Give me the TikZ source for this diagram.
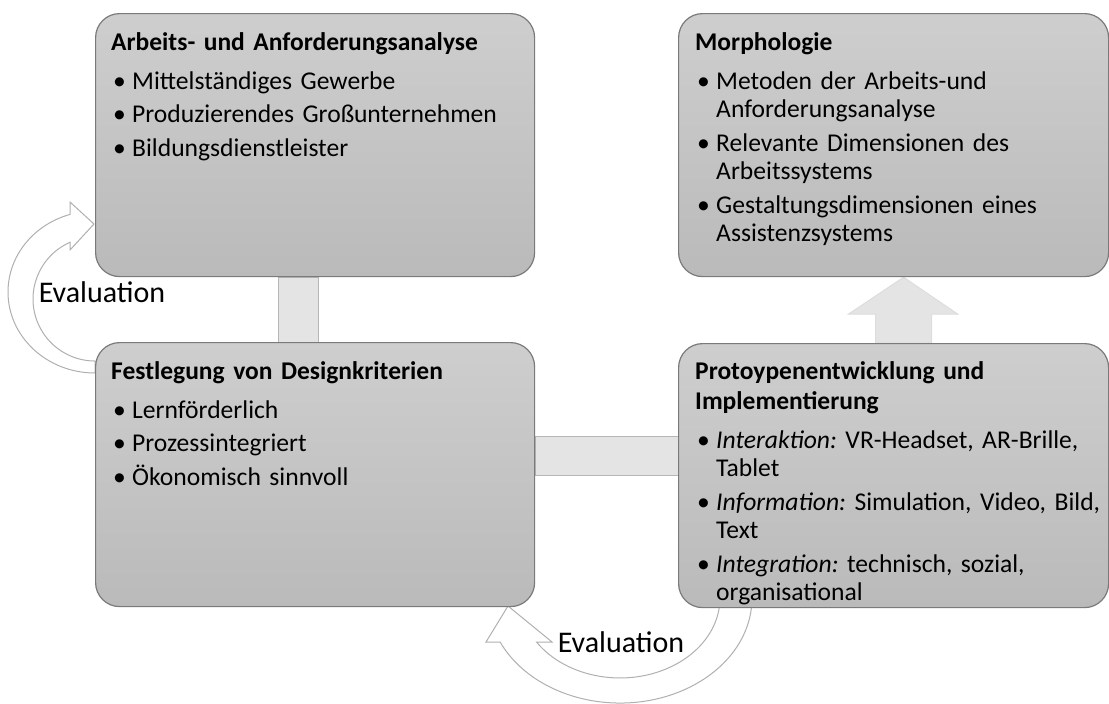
\documentclass[tikz,border=0pt]{standalone}
\usepackage{fontspec}
\setmainfont{Carlito}
\usetikzlibrary{positioning, calc, backgrounds}

\definecolor{boxoben}{RGB}{206,206,206}
\definecolor{boxunten}{RGB}{186,186,186}
\definecolor{randgrau}{RGB}{122,122,122}
\definecolor{balkengrau}{RGB}{228,228,228}
\definecolor{balkenrand}{RGB}{182,182,182}
\definecolor{pfeilrand}{RGB}{176,176,176}

% Ueberschrift und Aufzaehlungspunkt im Kasten
\newcommand{\titel}[1]{{\bfseries\fontsize{25.5}{30}\selectfont #1\par}\vspace{5.2pt}}
\newcommand{\punkt}[1]{\par\hangindent=21pt\hangafter=1\noindent\makebox[21pt][l]{\hspace{2pt}\textbullet}#1\par}

\tikzset{
  kasten/.style={draw=randgrau, line width=1.2pt, rounded corners=24pt,
    top color=boxoben, bottom color=boxunten, anchor=north west, inner sep=0pt},
  inhalt/.style={anchor=north west, inner sep=0pt, text width=#1, align=left,
    font=\fontsize{25.6}{28.3}\selectfont\frenchspacing\setlength{\parskip}{5.5pt}\setlength{\parindent}{0pt}},
  balken/.style={fill=balkengrau, draw=balkenrand, line width=1pt},
  kreispfeil/.style={fill=white, draw=pfeilrand, line width=1pt},
  evallabel/.style={font=\fontsize{30}{35}\selectfont, inner sep=0pt}
}

\begin{document}
\begin{tikzpicture}[x=1pt, y=-1pt]
  \useasboundingbox (0,0) rectangle (1109,704);

  % Kaesten
  \node[kasten, minimum width=439pt, minimum height=263pt] (analyse) at (95,13) {};
  \node[kasten, minimum width=430pt, minimum height=263pt] (morph) at (678,13) {};
  \node[kasten, minimum width=439pt, minimum height=264pt] (design) at (95,342) {};
  \node[kasten, minimum width=430pt, minimum height=264pt] (proto) at (678,343) {};

  % Texte
  \node[inhalt=410pt] (analyse-text) at ($(analyse.north west)+(16,19)$) {%
    \titel{Arbeits- und Anforderungsanalyse}%
    \punkt{Mittelständiges Gewerbe}%
    \punkt{Produzierendes Großunternehmen}%
    \punkt{Bildungsdienstleister}};
  \node[inhalt=400pt] (morph-text) at ($(morph.north west)+(17,19)$) {%
    \titel{Morphologie}%
    \punkt{Metoden der Arbeits-und\newline Anforderungsanalyse}%
    \punkt{Relevante Dimensionen des\newline Arbeitssystems}%
    \punkt{Gestaltungsdimensionen eines\newline Assistenzsystems}};
  \node[inhalt=410pt] (design-text) at ($(design.north west)+(16,19)$) {%
    \titel{Festlegung von Designkriterien}%
    \punkt{Lernförderlich}%
    \punkt{Prozessintegriert}%
    \punkt{Ökonomisch sinnvoll}};
  \node[inhalt=410pt] (proto-text) at ($(proto.north west)+(17,18)$) {%
    \titel{Protoypenentwicklung und\newline Implementierung}%
    \punkt{\textit{Interaktion:} VR-Headset, AR-Brille,\newline Tablet}%
    \punkt{\textit{Information:} Simulation, Video, Bild,\newline Text}%
    \punkt{\textit{Integration:} technisch, sozial,\newline organisational}};

  % Beschriftung der Rueckkopplungen
  \node[evallabel] (eval-links) at (102,292) {Evaluation};
  \node[evallabel] (eval-unten) at (621,642) {Evaluation};

  \begin{scope}[on background layer]
    % Verbindungsbalken
    \path[balken] ([xshift=-36.5pt]analyse.south) rectangle ([xshift=3.5pt]design.north);
    \path[balken] ([yshift=38pt]design.east) rectangle (proto.west);
    % Pfeil nach oben zur Morphologie
    \coordinate (pfeilfuss) at ($(proto.north)+(10,0)$);
    \path[balken, draw=balkengrau!85!black!20!balkengrau]
      ($(pfeilfuss)+(-28,0)$) -- ++(0,-29) -- ++(-27,0)
      -- (pfeilfuss |- morph.south) -- ($(pfeilfuss)+(54,-29)$)
      -- ++(-26,0) -- ($(pfeilfuss)+(28,0)$) -- cycle;
    % Evaluation links
    \path[kreispfeil] (95,373) arc[start angle=90, end angle=253.3, x radius=87, y radius=81]
      -- (70,202) -- (94,224) -- (70,250) -- (70,242.3)
      arc[start angle=246.2, end angle=90, radius=62] -- cycle;
    % Evaluation unten
    \path[kreispfeil] (751.5,607.2) arc[start angle=5, end angle=155.2, x radius=132, y radius=105]
      -- (486,642) -- (508,606) -- (552,642) -- (536.5,642)
      arc[start angle=146.6, end angle=5, x radius=100, y radius=80] -- cycle;
  \end{scope}
\end{tikzpicture}
\end{document}
